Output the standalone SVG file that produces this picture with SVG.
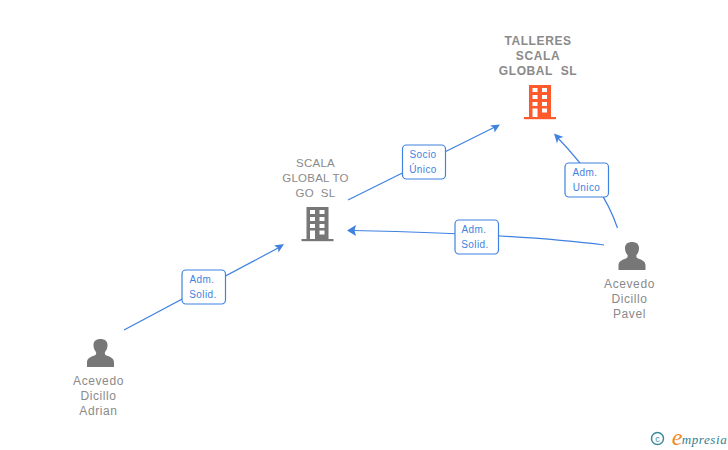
<svg xmlns="http://www.w3.org/2000/svg" width="728" height="450" viewBox="0 0 728 450">
<style>
text{font-family:"Liberation Sans",Arial,sans-serif;text-anchor:middle;white-space:pre}
.n{font-size:12px;fill:#8a8a8a;letter-spacing:.6px}
.s{font-size:11.500px;letter-spacing:.25px}
.b{font-weight:bold}
.c{fill:none;stroke:#3f82e0;stroke-width:1.2}
.a{fill:#3f82e0}
.l rect{fill:#fff;stroke:#3f82e0;stroke-width:1.2}
.l text{font-size:10px;fill:#3f82e0;letter-spacing:.4px}
.w{fill:#fff}
</style>
<defs>
<g id="bld">
<rect x="-11" y="-17" width="22" height="32"/>
<rect x="-16" y="15" width="32" height="2.200"/>
<g class="w">
<rect x="-7.500" y="-14" width="5" height="4"/><rect x="2" y="-14" width="5" height="4"/>
<rect x="-7.500" y="-7" width="5" height="4"/><rect x="2" y="-7" width="5" height="4"/>
<rect x="-7.500" y="0" width="5" height="4"/><rect x="2" y="0" width="5" height="4"/>
<rect x="-7.500" y="6.500" width="5" height="8.500"/><rect x="2" y="6.500" width="5" height="4"/>
</g>
</g>
<g id="per">
<path d="M-13.500 14 V9.500 C-13.500 5 -10 4 -6 2.500 C-4.500 2 -4 0.500 -4.500 -1 C-6.500 -3 -7 -6 -7 -8 C-7 -12 -4 -14 0 -14 C4 -14 7 -12 7 -8 C7 -6 6.500 -3 4.500 -1 C4 0.500 4.500 2 6 2.500 C10 4 13.500 5 13.500 9.500 V14 Z"/>
</g>
</defs>
<g id="connectors">
<path class="c" d="M124 330 L279 247.500"/>
<path class="a" d="M284 244 L274 245.500 L278 248 L278.500 252.500 Z"/>
<path class="c" d="M348 200 L495 127"/>
<path class="a" d="M500 124.500 L490 125.500 L494 128 L494.500 132.500 Z"/>
<path class="c" d="M604 245 Q520 234 352 230.500"/>
<path class="a" d="M347 230.500 L356 225 L354.500 230.500 L356 236 Z"/>
<path class="c" d="M617.500 228 Q603 185 557 137"/>
<path class="a" d="M554 133.500 L563.500 137 L558.500 138.500 L557 143.500 Z"/>
</g>
<g id="node-talleres">
<text class="n b"><tspan x="538" y="45">TALLERES</tspan><tspan x="538" y="60">SCALA</tspan><tspan x="538" y="75">GLOBAL  SL</tspan></text>
<use href="#bld" x="540" y="102" fill="#ff5a2c"/>
</g>
<g id="node-scala">
<text class="n s"><tspan x="315.500" y="167">SCALA</tspan><tspan x="315.500" y="182">GLOBAL TO</tspan><tspan x="315.500" y="197">GO  SL</tspan></text>
<use href="#bld" x="317.500" y="224" fill="#777"/>
</g>
<g id="node-pavel">
<use href="#per" x="632" y="256" fill="#777"/>
<text class="n"><tspan x="629.500" y="288">Acevedo</tspan><tspan x="629.500" y="303">Dicillo</tspan><tspan x="629.500" y="318">Pavel</tspan></text>
</g>
<g id="node-adrian">
<use href="#per" x="100.500" y="353" fill="#777"/>
<text class="n"><tspan x="98.500" y="385">Acevedo</tspan><tspan x="98.500" y="400">Dicillo</tspan><tspan x="98.500" y="415">Adrian</tspan></text>
</g>
<g id="label-1" class="l"><rect x="182" y="270" width="43.500" height="34" rx="4"/><text><tspan x="202" y="283">Adm.</tspan><tspan x="203" y="298">Solid.</tspan></text></g>
<g id="label-2" class="l"><rect x="402.500" y="145" width="43" height="34" rx="4"/><text><tspan x="423" y="158">Socio</tspan><tspan x="423" y="173">Único</tspan></text></g>
<g id="label-3" class="l"><rect x="455" y="220" width="43.500" height="34" rx="4"/><text><tspan x="474" y="233">Adm.</tspan><tspan x="475" y="248">Solid.</tspan></text></g>
<g id="label-4" class="l"><rect x="565" y="163" width="43.500" height="34" rx="4"/><text><tspan x="585" y="176">Adm.</tspan><tspan x="586.500" y="191">Unico</tspan></text></g>
<g id="logo">
<circle cx="657.500" cy="438.500" r="6" fill="none" stroke="#3d8a9c" stroke-width="1.500"/>
<text x="657.500" y="441.500" style="font-size:9px;fill:#3d8a9c">c</text>
<text x="677" y="445" style="font-size:24px;fill:#f08a1d;font-family:'Liberation Serif',serif;font-style:italic">e</text>
<text x="704.500" y="444" style="font-size:13px;fill:#2f7f92;font-family:'Liberation Serif',serif;font-style:italic;letter-spacing:.6px">mpresia</text>
</g>
</svg>
